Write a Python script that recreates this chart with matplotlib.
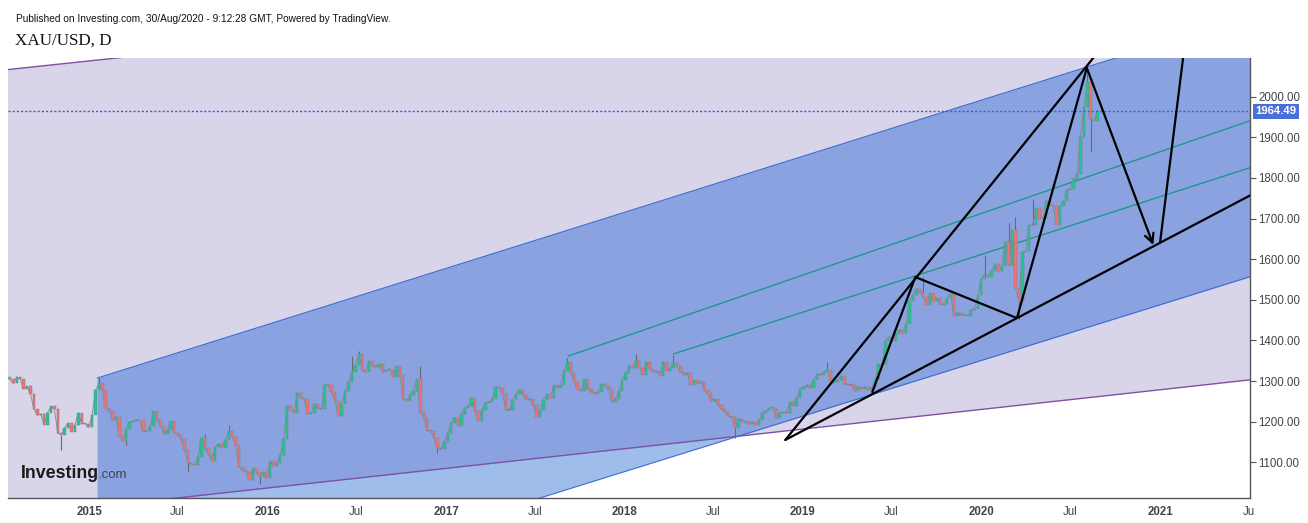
import numpy as np
import pandas as pd
import matplotlib
matplotlib.use("Agg")
import matplotlib.pyplot as plt
import matplotlib.dates as mdates
import matplotlib.transforms as mtransforms

plt.rcParams['font.family'] = ['Liberation Sans', 'DejaVu Sans']

# weekly closes XAU/USD, week ending friday
c2014 = [1310, 1304, 1294, 1310, 1305, 1280, 1287, 1268, 1231, 1216, 1218, 1192,
         1222, 1238, 1231, 1171, 1168, 1185, 1197, 1175, 1192, 1222, 1195, 1195]
c2015 = [1186, 1216, 1277, 1294, 1279, 1234, 1227, 1204, 1212, 1165, 1152, 1183, 1199,
         1201, 1205, 1203, 1176, 1176, 1189, 1225, 1205, 1190, 1169, 1180, 1201, 1173,
         1168, 1157, 1131, 1099, 1095, 1094, 1113, 1160, 1134, 1121, 1103, 1137, 1145,
         1136, 1156, 1177, 1163, 1142, 1088, 1081, 1076, 1056, 1085, 1075, 1065, 1076]
c2016 = [1061, 1104, 1090, 1097, 1118, 1158, 1239, 1229, 1222, 1271, 1259, 1256, 1220,
         1222, 1243, 1234, 1231, 1291, 1290, 1273, 1252, 1214, 1243, 1275, 1298, 1322,
         1340, 1366, 1327, 1322, 1350, 1336, 1335, 1341, 1321, 1327, 1328, 1310, 1337,
         1315, 1256, 1251, 1266, 1276, 1304, 1224, 1208, 1178, 1177, 1160, 1134, 1132, 1151]
c2017 = [1173, 1196, 1210, 1190, 1220, 1234, 1239, 1257, 1226, 1201, 1229, 1247, 1249,
         1255, 1285, 1284, 1268, 1228, 1228, 1254, 1268, 1279, 1266, 1254, 1256, 1241,
         1212, 1228, 1254, 1268, 1258, 1289, 1284, 1291, 1325, 1346, 1320, 1297, 1280,
         1275, 1304, 1280, 1272, 1269, 1274, 1293, 1288, 1280, 1248, 1256, 1275, 1303]
c2018 = [1320, 1338, 1333, 1351, 1333, 1315, 1347, 1330, 1322, 1324, 1313, 1347, 1325,
         1332, 1345, 1336, 1323, 1315, 1320, 1291, 1302, 1294, 1298, 1279, 1270, 1252,
         1256, 1241, 1231, 1223, 1214, 1212, 1184, 1206, 1201, 1198, 1194, 1199, 1192,
         1203, 1222, 1226, 1234, 1233, 1209, 1222, 1223, 1222, 1248, 1238, 1257, 1280]
c2019 = [1285, 1290, 1282, 1303, 1318, 1314, 1322, 1328, 1294, 1298, 1302, 1313, 1292,
         1291, 1290, 1275, 1286, 1280, 1286, 1277, 1284, 1305, 1341, 1341, 1399, 1409,
         1399, 1415, 1426, 1419, 1440, 1497, 1513, 1527, 1520, 1507, 1488, 1517, 1496,
         1504, 1488, 1490, 1505, 1514, 1459, 1468, 1462, 1463, 1460, 1476, 1478, 1511]
c2020 = [1552, 1562, 1557, 1571, 1589, 1570, 1584, 1643, 1585, 1673, 1530, 1498, 1618,
         1620, 1683, 1683, 1726, 1700, 1702, 1743, 1734, 1730, 1684, 1730, 1743, 1771,
         1774, 1798, 1810, 1902, 1975, 2035, 1944, 1940, 1964]

# wick extremes that stick out of the price line
spike_dates = ['2014-11-07', '2015-01-22', '2015-03-17', '2015-07-20', '2015-08-24', '2015-10-14',
               '2015-12-17', '2016-06-24', '2016-07-06', '2016-11-09', '2016-12-15', '2017-09-08',
               '2018-01-25', '2018-04-11', '2018-08-16', '2019-02-20', '2019-09-04', '2020-01-08',
               '2020-02-24', '2020-03-09', '2020-03-16', '2020-04-14', '2020-08-07', '2020-08-11']
spike_prices = [1131, 1307, 1142, 1077, 1170, 1191, 1046, 1362, 1375, 1337, 1122, 1357,
                1366, 1365, 1160, 1346, 1557, 1611, 1689, 1703, 1451, 1747, 2075, 1863]

last_price = 1964.49

# channel / trend lines drawn on the chart (date, price)
purple_upper = [('2014-07-20', 2067), ('2015-02-24', 2095)]
purple_lower = [('2015-07-07', 1013), ('2021-07-02', 1302.6)]
blue_upper = [('2015-01-18', 1307.5), ('2020-10-01', 2095)]
blue_lower = [('2018-08-16', 1162), ('2021-07-02', 1556)]
teal1 = [('2017-09-08', 1361.6), ('2021-07-02', 1940)]
teal2 = [('2018-04-11', 1366.6), ('2021-07-02', 1824.5)]
black_main = [('2018-11-26', 1155), ('2020-08-31', 2116)]
black_support = [('2018-11-26', 1155), ('2021-07-10', 1760.6)]
zigzag = [('2019-05-23', 1273), ('2019-08-19', 1556), ('2020-03-14', 1455), ('2020-08-04', 2071)]
arrow_down = [('2020-08-04', 2071), ('2020-12-18', 1635)]
arrow_up = [('2021-01-01', 1642), ('2021-02-20', 2124)]


def pts(line):
    return [mdates.date2num(pd.Timestamp(d)) for d, p in line], [p for d, p in line]


def line_y(line, xs):
    lx, ly = pts(line)
    return ly[0] + (ly[1] - ly[0]) / (lx[1] - lx[0]) * (xs - lx[0])


fig = plt.figure(figsize=(13.08, 5.23), dpi=100)
ax = fig.add_axes([8 / 1308, 25 / 523, 1242 / 1308, 440 / 523])

x0 = mdates.date2num(pd.Timestamp('2014-07-19'))
x1 = mdates.date2num(pd.Timestamp('2021-07-04'))
ax.set_xlim(x0, x1)
ax.set_ylim(1012, 2095.3)

lavender = '#d8d4ea'
midblue = '#8aa3e0'
lightblue = '#9fbdea'

xs = np.linspace(x0 - 5, x1 + 5, 3000)
ax.fill_between(xs, line_y(purple_lower, xs), line_y(purple_upper, xs), color=lavender, lw=0, zorder=0)

bstart = pts(blue_upper)[0][0]
xb = xs[xs >= bstart]
xb = np.r_[bstart, xb]
lo_b = line_y(blue_lower, xb)
hi_b = line_y(blue_upper, xb)
ax.fill_between(xb, lo_b, hi_b, color=lightblue, lw=0, zorder=1)
ax.fill_between(xb, np.maximum(lo_b, line_y(purple_lower, xb)), hi_b, color=midblue, lw=0, zorder=1.5)

# channel edges
ax.plot(xs, line_y(purple_upper, xs), color='#7c52a6', lw=1, zorder=2)
ax.plot(xs, line_y(purple_lower, xs), color='#7c52a6', lw=1, zorder=2)
ax.plot(xb, hi_b, color='#3d6cd2', lw=0.8, zorder=2)
ax.plot(xb, lo_b, color='#3d6cd2', lw=0.8, zorder=2)
for t in [teal1, teal2]:
    tx, ty = pts(t)
    ax.plot(tx, ty, color='#1f9888', lw=1, zorder=2)

# candles
closes = np.array(c2014 + c2015 + c2016 + c2017 + c2018 + c2019 + c2020, dtype=float)
opens = np.r_[closes[0], closes[:-1]]
fridays = pd.date_range('2014-07-18', periods=len(closes), freq='W-FRI')
cx = mdates.date2num(fridays - pd.Timedelta(days=2))
up = closes >= opens
body_lo = np.minimum(opens, closes)
body_h = np.maximum(np.abs(closes - opens), 2)

idx = fridays.searchsorted(pd.to_datetime(spike_dates))
ax.vlines(cx[idx], closes[idx], spike_prices, color='#6a6a6a', lw=0.8, zorder=3)
ax.plot(cx, closes, color='#7d8a8f', lw=0.6, zorder=3.5)
ax.bar(cx, body_h, width=5, bottom=body_lo, color=np.where(up, '#24c493', '#ef7373'),
       edgecolor='#7a8088', linewidth=0.35, zorder=4)

# last price
ax.axhline(last_price, color='#2f5fe0', lw=1, ls=(0, (1.5, 1.5)), zorder=5)
trans = mtransforms.blended_transform_factory(ax.transAxes, ax.transData)
ax.text(1.0045, last_price, '%.2f' % last_price, transform=trans, ha='left', va='center',
        color='white', fontsize=8.2, fontweight='bold',
        bbox=dict(boxstyle='square,pad=0.22', fc='#4a6fd8', ec='none'), zorder=6, clip_on=False)

# black drawings
for ln in [black_main, black_support, zigzag, arrow_up]:
    lx, ly = pts(ln)
    ax.plot(lx, ly, color='black', lw=1.6, zorder=7, solid_capstyle='round')
ax_, ay_ = pts(arrow_down)
ax.annotate('', xy=(ax_[1], ay_[1]), xytext=(ax_[0], ay_[0]),
            arrowprops=dict(arrowstyle='->', color='black', lw=1.6, mutation_scale=16,
                            shrinkA=0, shrinkB=0), zorder=7)

# axes look
for s in ['top', 'left']:
    ax.spines[s].set_visible(False)
for s in ['bottom', 'right']:
    ax.spines[s].set_color('#555555')
    ax.spines[s].set_linewidth(1)

ax.yaxis.tick_right()
ax.set_yticks(np.arange(1100, 2001, 100))
ax.set_yticklabels(['%.2f' % v for v in np.arange(1100, 2001, 100)])
ax.tick_params(axis='y', length=4, color='#555555', labelsize=8.3, labelcolor='#444444', pad=2)

tick_dates = ['2015-01-01', '2015-07-01', '2016-01-01', '2016-07-01', '2017-01-01', '2017-07-01',
              '2018-01-01', '2018-07-01', '2019-01-01', '2019-07-01', '2020-01-01', '2020-07-01',
              '2021-01-01', '2021-07-01']
tick_labels = ['2015', 'Jul', '2016', 'Jul', '2017', 'Jul', '2018', 'Jul', '2019', 'Jul',
               '2020', 'Jul', '2021', 'Ju']
ax.set_xticks([mdates.date2num(pd.Timestamp(d)) for d in tick_dates])
ax.set_xticklabels(tick_labels)
ax.tick_params(axis='x', length=0, labelsize=8.3, labelcolor='#444444', pad=6)
for lab in ax.get_xticklabels():
    if lab.get_text()[:2] == '20':
        lab.set_fontweight('bold')

# header and logo
fig.text(16 / 1308, 1 - 22 / 523, 'Published on Investing.com, 30/Aug/2020 - 9:12:28 GMT, Powered by TradingView.',
         fontsize=7.3, color='#111111', va='baseline')
fig.text(15 / 1308, 1 - 45 / 523, 'XAU/USD, D', fontsize=12.3, family='Liberation Serif',
         color='#111111', va='baseline')
fig.text(21 / 1308, 1 - 478 / 523, 'Investing', fontsize=12.8, fontweight='bold', color='#1a1a1a',
         va='baseline', zorder=10)
fig.text(99 / 1308, 1 - 478 / 523, '.com', fontsize=9.5, color='#444444', va='baseline', zorder=10)

fig.savefig('out.png', dpi=100)
